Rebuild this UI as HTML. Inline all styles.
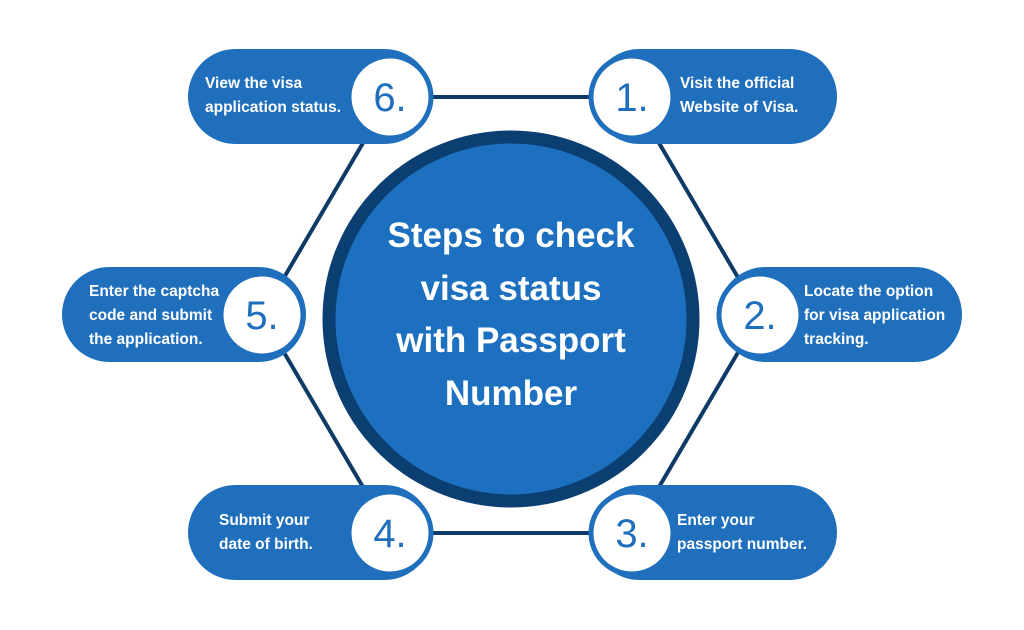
<!DOCTYPE html>
<html><head><meta charset="utf-8"><style>
html,body{margin:0;padding:0;background:#fff;}
svg{display:block;font-family:"Liberation Sans",sans-serif;}
</style></head><body>
<svg width="1024" height="630" viewBox="0 0 1024 630">
<g stroke="#0d3a66" stroke-width="4" fill="none">
<polygon points="390,97 632,97 760,315 632,533 390,533 262,315"/>
</g>
<g fill="#1f6fbd">
<rect x="188" y="49" width="244" height="95" rx="47.5"/>
<rect x="592" y="49" width="245" height="95" rx="47.5"/>
<rect x="718" y="267" width="244" height="95" rx="47.5"/>
<rect x="62" y="267" width="244" height="95" rx="47.5"/>
<rect x="188" y="485" width="244" height="95" rx="47.5"/>
<rect x="592" y="485" width="245" height="95" rx="47.5"/>
</g>
<circle cx="511" cy="319" r="182" fill="#1d70bf" stroke="#0b3f72" stroke-width="13"/>
<g fill="#fff" font-weight="bold" font-size="35" text-anchor="middle">
<text x="511" y="247">Steps to check</text>
<text x="511" y="300">visa status</text>
<text x="511" y="352">with Passport</text>
<text x="511" y="405">Number</text>
</g>
<g fill="#fff" stroke="#1f6fbd" stroke-width="5">
<circle cx="390" cy="97" r="41"/>
<circle cx="632" cy="97" r="41"/>
<circle cx="760" cy="315" r="41"/>
<circle cx="262" cy="315" r="41"/>
<circle cx="390" cy="533" r="41"/>
<circle cx="632" cy="533" r="41"/>
</g>
<g fill="#1f6fbd" font-size="40" text-anchor="middle">
<text x="390" y="111">6.</text>
<text x="632" y="111">1.</text>
<text x="760" y="329">2.</text>
<text x="262" y="329">5.</text>
<text x="390" y="547">4.</text>
<text x="632" y="547">3.</text>
</g>
<g fill="#fff" font-size="15.5" font-weight="bold">
<text x="205" y="88">View the visa</text>
<text x="205" y="112">application status.</text>
<text x="680" y="88">Visit the official</text>
<text x="680" y="112">Website of Visa.</text>
<text x="804" y="296">Locate the option</text>
<text x="804" y="320">for visa application</text>
<text x="804" y="344">tracking.</text>
<text x="89" y="296">Enter the captcha</text>
<text x="89" y="320">code and submit</text>
<text x="89" y="344">the application.</text>
<text x="219" y="525">Submit your</text>
<text x="219" y="549">date of birth.</text>
<text x="677" y="525">Enter your</text>
<text x="677" y="549">passport number.</text>
</g>
</svg>
</body></html>
